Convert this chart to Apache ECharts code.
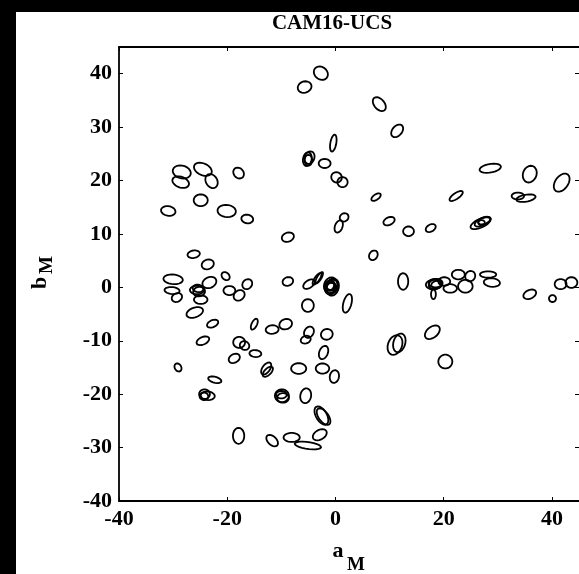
<!DOCTYPE html>
<html><head><meta charset="utf-8">
<script src="https://cdn.jsdelivr.net/npm/echarts@6/dist/echarts.min.js"></script>
<style>html,body{margin:0;padding:0;background:#fff}#c{width:579px;height:574px}</style>
</head><body><div id="c"></div>
<script>
// Tick values
const xTickStep = 20;
const yTickStep = 10;
const axisMin = -40;
const axisMax = 45;

// Ellipse centres (a_M, b_M), semi-axes and orientation (deg)
const centerA = [
  -28.4,-28.6,-24.5,-22.9,-17.9,-24.9,-30.9,-20.1,-16.3,-26.2,-23.6,
  -2.7,-5.7,8.1,11.4,-0.4,-5.2,-4.8,-5.0,-2.0,0.2,1.3,7.5,1.6,0.6,9.9,13.5,-8.8,7.0,
  28.6,35.9,41.8,22.3,33.7,35.2,26.8,27.2,27.5,27.0,17.6,
  -30.0,-30.2,-29.3,-23.3,-20.3,-25.6,-25.2,-25.4,-24.9,-19.6,-17.8,-16.3,-26.0,-22.7,-15.0,-11.7,
  -24.5,-17.8,-16.8,-14.8,-18.7,-12.8,-12.5,-29.1,-22.3,-24.2,-23.6,-24.3,-17.9,-11.7,
  -8.8,-4.9,-3.4,-3.0,-0.9,-0.7,-1.0,-0.6,-0.8,-1.1,-0.9,-0.5,2.2,12.5,-5.1,-9.2,-4.9,-5.5,-1.6,-2.2,
  11.0,11.8,-6.8,-2.4,-0.2,-9.9,-9.7,-10.0,-5.5,-2.6,-2.2,-2.9,-8.1,-5.1,
  18.1,18.5,18.7,18.4,18.1,20.1,21.2,22.7,24.0,24.9,28.2,28.9,35.9,40.1,41.6,43.6,17.9,20.3
];
const centerB = [
  21.6,19.7,22.1,19.9,21.4,16.3,14.3,14.3,12.8,6.2,4.3,
  40.1,37.5,34.3,29.3,27.0,24.0,24.3,23.8,23.2,20.6,19.7,16.9,13.1,11.4,12.4,10.5,9.4,6.0,
  22.3,21.2,19.6,17.1,17.1,16.7,12.0,12.3,12.5,12.1,11.1,
  1.5,-0.6,-1.9,0.9,2.1,-0.5,-0.8,-0.2,-2.3,-0.6,-1.5,0.6,-4.7,-6.8,-6.9,-7.9,
  -10.0,-10.3,-10.9,-12.4,-13.3,-15.2,-15.8,-15.0,-17.3,-20.0,-20.3,-20.4,-27.8,-28.7,
  1.1,0.6,1.6,1.8,0.4,0.1,0.0,0.5,-0.2,0.3,0.2,0.0,-3.0,1.1,-3.4,-6.9,-8.4,-9.8,-8.8,-12.2,
  -10.8,-10.4,-15.2,-15.2,-16.7,-20.3,-20.7,-20.1,-20.3,-24.0,-24.2,-27.6,-28.1,-29.6,
  0.5,0.8,0.5,0.6,-1.3,1.1,-0.2,2.4,0.2,2.1,2.4,0.9,-1.3,-2.1,0.6,0.9,-8.4,-13.9
];
const semiMajor = [
  1.7,1.6,1.75,1.4,1.1,1.3,1.35,1.7,1.1,1.15,1.15,
  1.4,1.3,1.5,1.35,1.6,1.3,1.2,1.0,0.85,1.0,0.95,1.0,0.85,1.2,1.1,1.0,1.15,0.95,
  2.0,1.6,1.9,1.45,1.15,1.8,2.0,1.6,1.2,0.6,1.0,
  1.8,1.4,1.0,1.35,0.85,1.3,1.1,1.0,1.25,1.1,1.1,1.0,1.6,1.1,1.1,1.2,
  1.25,1.1,0.9,1.1,1.1,1.3,1.2,0.8,1.25,1.0,1.3,0.8,1.5,1.3,
  1.0,1.2,1.3,1.2,1.5,1.4,1.3,1.2,1.1,1.0,0.8,1.6,1.8,1.55,1.2,1.2,1.1,0.95,1.1,1.3,
  1.9,1.8,1.4,1.25,1.2,1.3,1.1,1.0,1.4,1.9,1.8,1.4,1.5,2.45,
  1.4,1.3,1.0,1.2,0.9,1.1,1.25,1.2,1.35,1.0,1.5,1.5,1.25,0.65,1.1,1.1,1.6,1.3
];
const semiMinor = [
  1.2,1.0,1.1,1.05,0.9,1.1,0.9,1.15,0.8,0.7,0.9,
  1.15,1.05,0.95,0.9,0.55,0.8,0.9,0.7,1.1,0.95,0.95,0.5,0.75,0.7,0.7,0.9,0.85,0.75,
  0.8,1.25,1.2,0.55,0.65,0.65,0.8,0.7,0.6,0.5,0.65,
  0.9,0.65,0.8,1.0,0.65,0.8,0.9,0.7,0.8,0.85,0.9,0.85,0.9,0.65,0.5,0.8,
  0.7,1.05,0.8,0.65,0.8,0.7,0.6,0.6,0.55,0.9,0.8,0.7,1.05,0.8,
  0.8,0.7,0.45,0.4,1.2,1.1,1.0,1.0,0.9,0.8,0.7,1.1,0.75,0.95,1.1,0.95,0.85,0.7,1.0,0.8,
  1.3,1.1,1.0,0.95,0.85,1.2,0.9,0.7,1.0,1.0,0.9,0.9,0.85,0.65,
  0.9,0.8,0.7,0.9,0.45,0.8,0.8,0.9,1.2,0.9,0.6,0.8,0.8,0.65,0.95,1.0,1.0,1.3
];
const angleDeg = [
  -15,-20,-25,-60,-50,0,-10,-5,-10,10,20,
  -40,20,-50,50,80,80,70,90,90,-40,0,35,40,70,25,0,20,60,
  10,70,55,35,0,10,25,25,20,0,30,
  -5,-5,30,25,-45,0,10,-10,0,0,40,50,20,25,65,5,
  25,0,-30,-5,30,55,45,-60,-15,0,-5,0,90,-45,
  20,35,55,60,70,60,80,50,70,60,0,75,75,90,90,20,60,20,20,70,
  70,75,0,0,80,0,0,0,80,-60,-55,30,0,-8,
  0,0,10,20,90,0,0,0,0,60,0,-5,25,0,0,0,40,0
];

const data = centerA.map((a, i) => [a, centerB[i], semiMajor[i], semiMinor[i], angleDeg[i]]);

const lbl = {color:'#000', fontFamily:'Liberation Serif', fontWeight:'bold', fontSize:22, showMaxLabel:false};
const line = {show:true, onZero:false, lineStyle:{color:'#000', width:1.8}};
const tick = {show:true, inside:true, length:4, lineStyle:{color:'#000', width:1}};

const chart = echarts.init(document.getElementById('c'), null, {renderer:'canvas'});
chart.setOption({
  backgroundColor:'#fff',
  animation:false,
  grid:{left:119, top:47, width:463, height:454, containLabel:false},
  xAxis:[
    {type:'value', min:axisMin, max:axisMax, interval:xTickStep, position:'bottom',
     axisLine:line, axisTick:tick, splitLine:{show:false}, axisLabel:Object.assign({margin:7}, lbl)},
    {type:'value', min:axisMin, max:axisMax, interval:xTickStep, position:'top',
     axisLine:line, axisTick:tick, splitLine:{show:false}, axisLabel:{show:false}}
  ],
  yAxis:[
    {type:'value', min:axisMin, max:axisMax, interval:yTickStep, position:'left',
     axisLine:line, axisTick:tick, splitLine:{show:false}, axisLabel:Object.assign({margin:7}, lbl)},
    {type:'value', min:axisMin, max:axisMax, interval:yTickStep, position:'right',
     axisLine:{show:false, onZero:false}, axisTick:tick, splitLine:{show:false}, axisLabel:{show:false}}
  ],
  series:[{
    type:'custom',
    data:data,
    encode:{x:0, y:1},
    clip:true,
    renderItem:function(params, api){
      const cx=api.value(0), cy=api.value(1), ra=api.value(2), rb=api.value(3);
      const th=api.value(4)*Math.PI/180;
      const pts=[];
      const N=22;
      for(let k=0;k<N;k++){
        const t=2*Math.PI*k/N;
        const x=cx+ra*Math.cos(t)*Math.cos(th)-rb*Math.sin(t)*Math.sin(th);
        const y=cy+ra*Math.cos(t)*Math.sin(th)+rb*Math.sin(t)*Math.cos(th);
        pts.push(api.coord([x,y]));
      }
      return {type:'polygon', shape:{points:pts}, style:{fill:'none', stroke:'#000', lineWidth:1.8}};
    }
  }],
  graphic:[
    {type:'rect', left:0, top:0, shape:{width:16, height:574}, style:{fill:'#000'}, z:100},
    {type:'rect', left:0, top:0, shape:{width:579, height:12}, style:{fill:'#000'}, z:100},
    {type:'text', x:332, y:24, style:{text:'CAM16-UCS', font:'bold 21px "Liberation Serif"', fill:'#000', align:'center', verticalAlign:'middle'}},
    {type:'text', x:338, y:551, style:{text:'a', font:'bold 22px "Liberation Serif"', fill:'#000', align:'center', verticalAlign:'middle'}},
    {type:'text', x:356, y:565, style:{text:'M', font:'bold 19px "Liberation Serif"', fill:'#000', align:'center', verticalAlign:'middle'}},
    {type:'group', x:42, y:275, rotation:Math.PI/2, children:[
      {type:'text', x:-8, y:-2, style:{text:'b', font:'bold 22px "Liberation Serif"', fill:'#000', align:'center', verticalAlign:'middle'}},
      {type:'text', x:10, y:5, style:{text:'M', font:'bold 19px "Liberation Serif"', fill:'#000', align:'center', verticalAlign:'middle'}}
    ]}
  ]
});
</script></body></html>
